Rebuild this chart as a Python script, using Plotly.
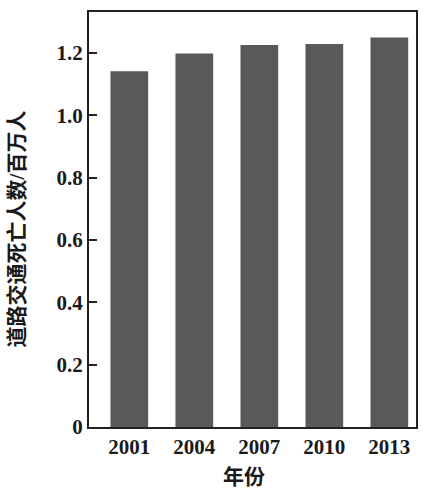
import plotly.graph_objects as go

years = ["2001", "2004", "2007", "2010", "2013"]
deaths = [1.142, 1.199, 1.226, 1.229, 1.250]
y_ticks = [0, 0.2, 0.4, 0.6, 0.8, 1.0, 1.2]
y_tick_labels = ["0", "0.2", "0.4", "0.6", "0.8", "1.0", "1.2"]
x_title = "年份"
y_title = "道路交通死亡人数/百万人"

font_family = "Liberation Serif, Noto Sans CJK SC, serif"
pos = list(range(len(years)))

fig = go.Figure(go.Bar(
    x=pos, y=deaths, width=0.58,
    marker=dict(color="#595959", line=dict(width=0)),
))

fig.update_layout(
    width=423, height=490,
    margin=dict(l=89, r=5, t=12, b=63),
    paper_bgcolor="white", plot_bgcolor="white",
    showlegend=False,
    font=dict(family=font_family, size=21, color="#1a1a1a"),
    xaxis=dict(
        range=[-0.62, 4.41],
        tickmode="array", tickvals=pos, ticktext=years,
        ticks="", showgrid=False, zeroline=False,
        showline=True, linecolor="#222", linewidth=2, mirror=True,
        tickfont=dict(size=21, family=font_family, weight="bold"),
    ),
    yaxis=dict(
        range=[0, 1.332],
        tickmode="array", tickvals=y_ticks, ticktext=y_tick_labels,
        ticks="inside", ticklen=8, tickwidth=2, tickcolor="#222",
        showgrid=False, zeroline=False,
        showline=True, linecolor="#222", linewidth=2, mirror=True,
        tickfont=dict(size=21, family=font_family, weight="bold"),
    ),
    annotations=[
        dict(text=x_title, xref="paper", yref="paper", x=0.474, y=-0.12,
             xanchor="center", yanchor="middle", showarrow=False,
             font=dict(size=21, family=font_family, weight="bold")),
        dict(text=y_title, xref="paper", yref="paper", x=-0.219, y=0.477,
             xanchor="center", yanchor="middle", showarrow=False, textangle=-90,
             font=dict(size=21, family=font_family, weight="bold")),
    ],
)

fig.write_html("out.html", config={"displayModeBar": False},
               post_script="document.body.style.margin='0';document.body.style.overflow='hidden';")
